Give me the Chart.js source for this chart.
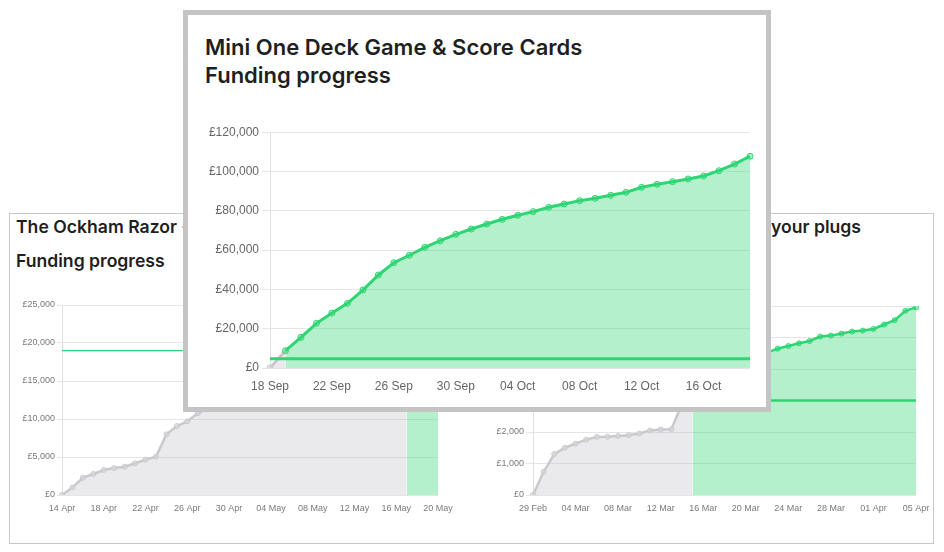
<!DOCTYPE html>
<html><head><meta charset="utf-8">
<script src="https://cdn.jsdelivr.net/npm/chart.js@4.4.1/dist/chart.umd.min.js"></script>
<style>
html,body{margin:0;padding:0;background:#fff;width:944px;height:552px;overflow:hidden;}
body{position:relative;}
.t{position:absolute;font-family:Inter,"Noto Sans",sans-serif;font-weight:600;color:#1f1f1f;white-space:pre;}
#back{position:absolute;left:9px;top:213px;width:923px;height:329px;border:1px solid #c8c8c8;background:#fff;}
#front{position:absolute;left:183px;top:10px;width:578px;height:392px;border:5px solid #c4c4c4;background:#fff;}
canvas{position:absolute;}
</style></head><body>
<div id="back"></div>
<div class="t" style="left:16px;top:216.8px;font-size:17.6px;line-height:20px;">The Ockham Razor - Card Game</div>
<div class="t" style="left:16px;top:251.3px;font-size:17.6px;line-height:20px;">Funding progress</div>
<div class="t" style="right:174px;top:216.8px;font-size:17.6px;line-height:20px;">Plugsmart - never forget to switch off</div>
<div class="t" style="left:771px;top:216.8px;font-size:17.6px;line-height:20px;">your plugs</div>
<div class="t" style="left:487px;top:251.3px;font-size:17.6px;line-height:20px;">Funding progress</div>
<canvas id="cLeft" width="450" height="225" style="left:12px;top:295px;"></canvas>
<canvas id="cRight" width="455" height="225" style="left:478px;top:295px;"></canvas>
<div id="front"></div>
<div class="t" style="left:205px;top:33.3px;font-size:22px;line-height:28px;">Mini One Deck Game &amp; Score Cards</div>
<div class="t" style="left:205px;top:61.3px;font-size:22px;line-height:28px;">Funding progress</div>
<canvas id="cMain" width="570" height="285" style="left:195px;top:118px;"></canvas>
<script>
// ---- data ----
const mainLabels = ['18 Sep','19 Sep','20 Sep','21 Sep','22 Sep','23 Sep','24 Sep','25 Sep','26 Sep','27 Sep','28 Sep','29 Sep','30 Sep','01 Oct','02 Oct','03 Oct','04 Oct','05 Oct','06 Oct','07 Oct','08 Oct','09 Oct','10 Oct','11 Oct','12 Oct','13 Oct','14 Oct','15 Oct','16 Oct','17 Oct','18 Oct','19 Oct'];
const mainValues = [0,8800,15600,22750,28000,32900,39700,47350,53600,57400,61450,64800,68050,70750,73300,75700,77750,79600,81800,83500,85200,86400,87950,89450,92000,93550,94850,96250,97750,100450,103850,107800];
const mainGoal = 4750;
const mainTicks = {max:120000, step:20000};

const leftLabels = ['14 Apr','15 Apr','16 Apr','17 Apr','18 Apr','19 Apr','20 Apr','21 Apr','22 Apr','23 Apr','24 Apr','25 Apr','26 Apr','27 Apr','28 Apr','29 Apr','30 Apr','01 May','02 May','03 May','04 May','05 May','06 May','07 May','08 May','09 May','10 May','11 May','12 May','13 May','14 May','15 May','16 May','17 May','18 May','19 May','20 May'];
const leftValues = [0,1000,2270,2760,3290,3550,3720,4170,4650,5040,7980,9080,9690,10750,11400,11900,12300,12700,13000,13300,13700,14000,14300,14600,14900,15300,15600,15900,16300,16700,17100,17600,18300,19400,20200,20900,21600];
const leftGoal = 19000;
const leftTicks = {max:25000, step:5000};

const rightLabels = ['29 Feb','01 Mar','02 Mar','03 Mar','04 Mar','05 Mar','06 Mar','07 Mar','08 Mar','09 Mar','10 Mar','11 Mar','12 Mar','13 Mar','14 Mar','15 Mar','16 Mar','17 Mar','18 Mar','19 Mar','20 Mar','21 Mar','22 Mar','23 Mar','24 Mar','25 Mar','26 Mar','27 Mar','28 Mar','29 Mar','30 Mar','31 Mar','01 Apr','02 Apr','03 Apr','04 Apr','05 Apr'];
const rightValues = [0,735,1300,1500,1630,1757,1843,1850,1875,1897,1950,2045,2077,2089,2880,3250,3600,3800,3950,4100,4230,4380,4520,4645,4728,4815,4888,5029,5060,5124,5188,5220,5272,5412,5550,5847,5955];
const rightGoal = 3000;
const rightTicks = {max:6000, step:1000};

// ---- styles ----
const GREEN = 'rgb(46,213,115)';
const GREEN_FILL = 'rgba(46,213,115,0.36)';
const GRAY = 'rgb(200,200,205)';
const GRAY_FILL = 'rgba(185,185,195,0.3)';
const GRAY_PT = 'rgba(215,215,220,0.6)';

const goalPlugin = {
  id: 'goalLine',
  afterDatasetsDraw(chart, args, opts) {
    const {ctx, chartArea: a, scales: {y}} = chart;
    const py = y.getPixelForValue(opts.value);
    ctx.save();
    ctx.strokeStyle = GREEN;
    ctx.lineWidth = opts.width;
    ctx.beginPath();
    ctx.moveTo(a.left, py);
    ctx.lineTo(a.right, py);
    ctx.stroke();
    ctx.restore();
  }
};

function money(v) {
  return '£' + String(v).replace(/\B(?=(\d{3})+(?!\d))/g, ',');
}

function makeChart(id, labels, values, goal, ticks, o) {
  const font = {family: '"Liberation Sans", Arial, sans-serif', size: o.fs};
  return new Chart(document.getElementById(id), {
    type: 'line',
    data: {
      labels: labels,
      datasets: [{
        data: values,
        borderWidth: o.lw,
        tension: 0,
        fill: 'origin',
        borderColor: GREEN,
        backgroundColor: GREEN_FILL,
        segment: {
          borderColor: c => values[c.p0DataIndex] >= goal ? GREEN : GRAY,
          backgroundColor: c => values[c.p0DataIndex] >= goal ? GREEN_FILL : GRAY_FILL
        },
        pointRadius: o.pr,
        pointBorderWidth: 1,
        pointBackgroundColor: c => values[c.dataIndex] >= goal ? GREEN_FILL : GRAY_PT,
        pointBorderColor: c => values[c.dataIndex] >= goal ? GREEN : GRAY
      }]
    },
    options: {
      responsive: false,
      animation: false,
      devicePixelRatio: 1,
      layout: {padding: {left: 0, top: o.pt, right: o.pright, bottom: 0}},
      plugins: {legend: {display: false}, tooltip: {enabled: false}, goalLine: {value: goal, width: o.gw}},
      scales: {
        x: {
          grid: {display: true, drawOnChartArea: false, color: 'transparent', tickLength: o.xtl},
          border: {display: false},
          ticks: {
            autoSkip: false, maxRotation: 0, padding: o.xpad, color: o.tc, font: font,
            callback: function (v, i) { return i % 4 === 0 ? this.getLabelForValue(v) : ''; }
          },
          afterFit: s => { s.height = o.xh; }
        },
        y: {
          min: 0, max: ticks.max,
          ticks: {stepSize: ticks.step, padding: o.ypad, color: o.tc, font: font, callback: v => money(v)},
          grid: {color: 'rgba(0,0,0,0.1)', tickLength: o.ytl},
          border: {color: 'rgba(0,0,0,0.12)'},
          afterFit: s => { s.width = o.yw; }
        }
      }
    },
    plugins: [goalPlugin]
  });
}

makeChart('cLeft', leftLabels, leftValues, leftGoal, leftTicks,
  {fs: 9, tc: '#7a7a7a', lw: 2.5, pr: 2.5, gw: 1.3, pt: 10, pright: 24, xh: 25, yw: 50, xtl: 5, xpad: 3, ytl: 5, ypad: 2});
makeChart('cRight', rightLabels, rightValues, rightGoal, rightTicks,
  {fs: 9, tc: '#7a7a7a', lw: 2.5, pr: 2.5, gw: 2.5, pt: 11, pright: 17, xh: 25, yw: 55, xtl: 5, xpad: 3, ytl: 7, ypad: 2});
makeChart('cMain', mainLabels, mainValues, mainGoal, mainTicks,
  {fs: 12, tc: '#666', lw: 3, pr: 3, gw: 3, pt: 14.3, pright: 15, xh: 35, yw: 75, xtl: 8, xpad: 3, ytl: 8, ypad: 3});
</script>
</body></html>
